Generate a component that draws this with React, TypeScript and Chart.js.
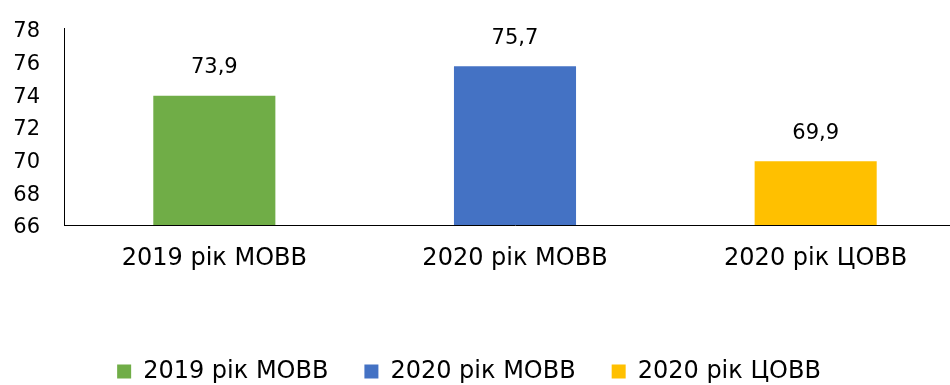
import React, { useEffect, useRef } from 'react';
import { Chart, registerables } from 'chart.js';

Chart.register(...registerables);

const categories: string[] = ['2019 рік МОВВ', '2020 рік МОВВ', '2020 рік ЦОВВ'];
const values: number[] = [73.9, 75.7, 69.9];
const colors: string[] = ['#70AD47', '#4472C4', '#FFC000'];
const yMin = 66;
const yMax = 78;
const yStep = 2;

const FONT = "'DejaVu Sans', sans-serif";
const CANVAS_W = 966;
const CANVAS_H = 385;

const valueLabels = {
  id: 'valueLabels',
  afterDatasetsDraw(chart: any) {
    const ctx = chart.ctx;
    const meta = chart.getDatasetMeta(0);
    ctx.save();
    ctx.font = `21px ${FONT}`;
    ctx.fillStyle = '#000';
    ctx.textAlign = 'center';
    ctx.textBaseline = 'middle';
    meta.data.forEach((bar: any, i: number) => {
      ctx.fillText(values[i].toFixed(1).replace('.', ','), bar.x, bar.y - 28);
    });
    ctx.restore();
  },
};

const legendShift = {
  id: 'legendShift',
  afterLayout(chart: any) {
    const lg = chart.legend;
    if (lg) {
      lg.left -= 14;
      lg.right -= 14;
      lg.top += 8.5;
      lg.bottom += 8.5;
    }
  },
};

export default function App() {
  const ref = useRef<HTMLCanvasElement | null>(null);

  useEffect(() => {
    if (!ref.current) return;
    const chart = new Chart(ref.current, {
      type: 'bar',
      data: {
        labels: categories,
        datasets: [
          {
            data: values,
            backgroundColor: colors,
            borderWidth: 0,
            categoryPercentage: 1,
            barPercentage: 0.406,
          },
        ],
      },
      options: {
        responsive: false,
        animation: false,
        devicePixelRatio: 1,
        layout: { padding: { top: 20, left: 0, right: 0, bottom: 0 } },
        plugins: {
          tooltip: { enabled: false },
          legend: {
            position: 'bottom',
            labels: {
              font: { family: FONT, size: 24 },
              color: '#000',
              boxWidth: 14,
              boxHeight: 14,
              padding: 36,
              generateLabels: () =>
                categories.map((c, i) => ({
                  text: c,
                  fillStyle: colors[i],
                  strokeStyle: colors[i],
                  lineWidth: 0,
                  hidden: false,
                  index: i,
                  datasetIndex: 0,
                  fontColor: '#000',
                })),
            },
          },
        },
        scales: {
          x: {
            grid: { display: false },
            border: { display: true, color: '#000', width: 1 },
            ticks: { font: { family: FONT, size: 24 }, color: '#000', padding: 11 },
            afterFit: (s: any) => {
              s.height = 90;
            },
          },
          y: {
            min: yMin,
            max: yMax,
            grid: { display: false },
            border: { display: true, color: '#000', width: 1 },
            ticks: {
              stepSize: yStep,
              font: { family: FONT, size: 21 },
              color: '#000',
              padding: 16,
              labelOffset: 3,
            },
            afterFit: (s: any) => {
              s.width = 64;
            },
          },
        },
      },
      plugins: [valueLabels, legendShift],
    });
    return () => chart.destroy();
  }, []);

  return (
    <div
      style={{
        position: 'fixed',
        top: 0,
        left: 0,
        width: 950,
        height: 385,
        overflow: 'hidden',
        background: '#fff',
      }}
    >
      <canvas ref={ref} width={CANVAS_W} height={CANVAS_H} style={{ display: 'block', width: CANVAS_W, height: CANVAS_H }} />
    </div>
  );
}
